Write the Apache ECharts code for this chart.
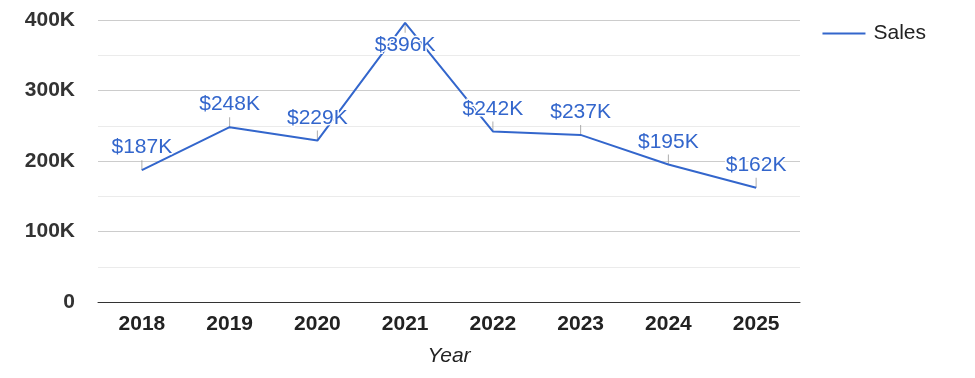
<!DOCTYPE html>
<html>
<head>
<meta charset="utf-8">
<script src="https://cdn.jsdelivr.net/npm/echarts@6/dist/echarts.min.js"></script>
<style>
  html, body { margin: 0; padding: 0; background: #fff; }
  #chart { width: 975px; height: 378px; }
</style>
</head>
<body>
<div id="chart"></div>
<script>
// sales per year, in thousands
const years = ['2018', '2019', '2020', '2021', '2022', '2023', '2024', '2025']
const sales = [187, 248, 229, 396, 242, 237, 195, 162]
const yTicks = [0, 100, 200, 300, 400]

const chart = echarts.init(document.getElementById('chart'))

const fontFamily = 'Arial, "Liberation Sans", sans-serif'
const yMax = yTicks[yTicks.length - 1]

// no room above the peak, so that label goes under the point
const isNearTop = (v) => v > yMax * 0.95

const lineData = sales.map((v) => ({
  value: v,
  label: { position: isNearTop(v) ? 'bottom' : 'top' }
}))
const leaderData = sales.map((v) => ({
  value: v,
  symbolOffset: [0, isNearTop(v) ? 5 : -5]
}))

chart.setOption({
  animation: false,
  grid: {
    left: 98,
    right: 175,
    top: 20,
    bottom: 76,
    outerBoundsMode: 'none'
  },
  legend: {
    right: 44,
    top: 18,
    itemWidth: 43,
    itemHeight: 2,
    icon: 'rect',
    data: ['Sales'],
    textStyle: {
      fontFamily: fontFamily,
      fontSize: 21,
      color: '#222',
      padding: [0, 0, 0, 3]
    }
  },
  xAxis: {
    type: 'category',
    data: years,
    name: 'Year',
    nameLocation: 'middle',
    nameGap: 44,
    nameTextStyle: {
      fontFamily: fontFamily,
      fontSize: 21,
      fontStyle: 'italic',
      color: '#222'
    },
    axisTick: { show: false },
    axisLine: { lineStyle: { color: '#333', width: 1 } },
    axisLabel: {
      margin: 12,
      fontFamily: fontFamily,
      fontSize: 21,
      fontWeight: 'bold',
      color: '#222'
    }
  },
  yAxis: {
    type: 'value',
    min: yTicks[0],
    max: yMax,
    interval: 100,
    axisLine: { show: false },
    axisTick: { show: false },
    axisLabel: {
      margin: 23,
      fontFamily: fontFamily,
      fontSize: 21,
      fontWeight: 'bold',
      color: '#333',
      formatter: (v) => (v === 0 ? '0' : v + 'K')
    },
    splitLine: { lineStyle: { color: '#ccc' } },
    minorTick: { show: false, splitNumber: 2 },
    minorSplitLine: { show: true, lineStyle: { color: '#ebebeb' } }
  },
  series: [
    {
      name: 'Sales',
      type: 'line',
      data: lineData,
      symbol: 'circle',
      symbolSize: 0,
      showSymbol: true,
      z: 3,
      lineStyle: { color: '#3366cc', width: 2 },
      itemStyle: { color: '#3366cc' },
      label: {
        show: true,
        position: 'top',
        distance: 12,
        fontFamily: fontFamily,
        fontSize: 21,
        color: '#3366cc',
        textBorderColor: '#fff',
        textBorderWidth: 3,
        formatter: (p) => '$' + p.value + 'K'
      }
    },
    {
      // little leader ticks between the point and its label
      name: 'leader',
      type: 'scatter',
      data: leaderData,
      symbol: 'rect',
      symbolSize: [1, 10],
      silent: true,
      z: 2,
      itemStyle: { color: '#999' }
    }
  ]
})
</script>
</body>
</html>
